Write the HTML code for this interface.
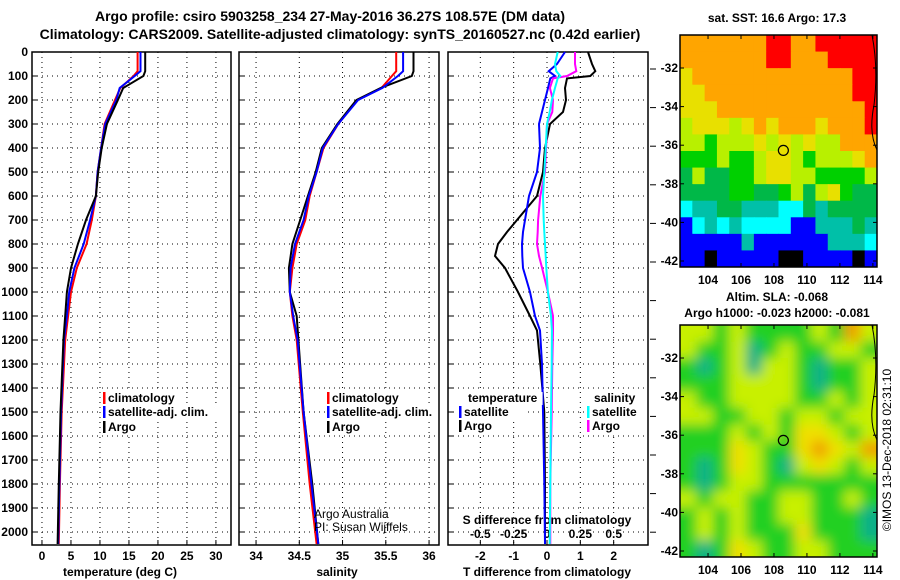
<!DOCTYPE html>
<html><head><meta charset="utf-8"><style>
body{margin:0;background:#fff}
svg{display:block;font-family:"Liberation Sans",Arial,sans-serif;font-weight:bold}
text{font-size:12px;fill:#000}
</style></head><body>
<svg id="c" width="900" height="580" viewBox="0 0 900 580">
<defs>
<clipPath id="clipT"><rect x="680" y="35" width="197" height="232"/></clipPath>
<clipPath id="clipS"><rect x="680" y="325" width="197" height="232"/></clipPath>
<filter id="bl" x="-10%" y="-10%" width="120%" height="120%"><feGaussianBlur stdDeviation="6"/></filter>
</defs>
<text x="330" y="21" text-anchor="middle" style="font-size:14px">Argo profile: csiro 5903258_234 27-May-2016 36.27S 108.57E (DM data)</text>
<text x="340" y="39" text-anchor="middle" style="font-size:14px">Climatology: CARS2009. Satellite-adjusted climatology: synTS_20160527.nc (0.42d earlier)</text>
<text x="777" y="22" text-anchor="middle">sat. SST: 16.6 Argo: 17.3</text>
<text x="777" y="301" text-anchor="middle">Altim. SLA: -0.068</text>
<text x="777" y="317" text-anchor="middle">Argo h1000: -0.023 h2000: -0.081</text>
<text transform="translate(891,450) rotate(-90)" text-anchor="middle" style="font-weight:normal">©IMOS 13-Dec-2018 02:31:10</text>
<g id="g"></g>
</svg>
<script>
// ---------- data ----------
const depthTicks=[0,100,200,300,400,500,600,700,800,900,1000,1100,1200,1300,1400,1500,1600,1700,1800,1900,2000];
const tempTicks=[0,5,10,15,20,25,30];
const salTicks=[34,34.5,35,35.5,36];
const tdiffTicks=[-2,-1,0,1,2];
const sdiffTicks=[-0.5,-0.25,0,0.25,0.5];
const sdiffLabels=["-0.5","-0.25","0","0.25","0.5"];
const latTicks=[-32,-34,-36,-38,-40,-42];
const lonTicks=[104,106,108,110,112,114];
const profDepths=[0,80,100,150,200,300,400,500,600,700,800,900,1000,1100,1200,1500,1800,2050];
const tempClim=[16.5,16.5,15.8,13.5,12.6,10.8,10.2,9.6,9.3,8.6,7.7,6.0,5.0,4.5,4.0,3.4,3.1,2.9];
const tempSat=[17.0,17.0,16.0,13.4,12.8,10.9,10.2,9.6,9.3,8.3,7.2,5.6,4.7,4.3,3.8,3.3,3.0,2.8];
const tempArgo=[17.8,17.8,17.5,14.0,13.1,11.2,10.3,9.7,9.3,7.6,6.2,5.0,4.3,4.0,3.7,3.2,2.9,2.7];
const salClim=[35.62,35.62,35.57,35.45,35.17,34.95,34.78,34.70,34.62,34.57,34.47,34.42,34.39,34.42,34.47,34.54,34.62,34.70];
const salSat=[35.70,35.70,35.64,35.46,35.18,34.95,34.77,34.70,34.61,34.55,34.45,34.40,34.39,34.43,34.48,34.55,34.64,34.72];
const salArgo=[35.82,35.82,35.80,35.44,35.16,34.94,34.76,34.69,34.60,34.51,34.42,34.38,34.39,34.47,34.49,34.55,34.65,34.72];
const diffDepths=[0,50,80,100,110,150,200,250,300,400,500,600,700,750,800,850,900,1000,1100,1160,1300,1500,1800,2050];
const tdiffArgo=[1.23,1.35,1.45,1.3,0.6,0.54,0.57,0.48,0.09,-0.06,-0.12,-0.3,-0.9,-1.2,-1.47,-1.56,-1.26,-0.87,-0.51,-0.3,-0.2,-0.08,-0.06,-0.06];
const tdiffSat=[0.54,0.3,0.05,0.24,0.1,0.03,-0.06,-0.15,-0.24,-0.21,-0.3,-0.54,-0.66,-0.72,-0.75,-0.74,-0.72,-0.51,-0.36,-0.21,-0.15,-0.12,-0.08,-0.06];
const sdiffArgo=[0.21,0.21,0.22,0.15,0.045,0.022,0.045,0.04,0,-0.007,-0.015,-0.05,-0.067,-0.07,-0.075,-0.06,-0.037,0.007,0.045,0.045,0.04,0.035,0.025,0.025];
const sdiffSat=[0.08,0.06,0.07,0.1,0.08,0.06,0.037,0.02,0,-0.01,-0.02,-0.03,-0.025,-0.02,-0.015,-0.01,-0.005,0.007,0.03,0.037,0.035,0.03,0.025,0.02];
const sstGrid=["OOOOOOORROORRRRR","OOOOOOORROOORRRR","YOOOOOOOOOOOOORR","YYOOOOOOOOOOOORR","YYYOOOOOOOOOOOOR","LYYYLYOYOOOYOOOR","LLGLLLYLYLYLLOOO","GGGLGGLYYLGLLLYO","DLDDGGLYYLLGGGGL","DDDDGGDDGLDLYGDD","CTTDDTTTCCDTDDDD","BCTCTCCCCBBTTTDT","BBBBBTBBBBBBTTTC","BBKBBBBBKKBBBBKB"];
const slaGrid=["LLGLGGGGLGOL","LGGLTGLGGLLG","GTGLTLLGTGGL","GGGLLLLGTGGL","LGGLLLLGGLGL","LLGGLLGLLGLL","GGGLGLGYYLGL","GGGYLGGYOYLO","GTGYLGTLYLGL","GTGLLGGGGGGG","LGLLGGLLGGLG","GLGLGGLLGGGT","GLGLGGGYGGGT","GTGYLGGLLGGG"];
const floatLon=108.57, floatLat=-36.27;
// ---------- helpers ----------
const NS="http://www.w3.org/2000/svg";
const G=document.getElementById('g');
function mk(tag,at,par){const e=document.createElementNS(NS,tag);for(const k in at)e.setAttribute(k,at[k]);(par||G).appendChild(e);return e;}
const yD=d=>52+0.24*d;
const P=[{x0:32,x1:231,v0:-1.72,v1:32.6},{x0:239,x1:439,v0:33.803,v1:36.115},{x0:448,x1:648,v0:-2.97,v1:3.03}];
const xT=v=>P[0].x0+(v-P[0].v0)/(P[0].v1-P[0].v0)*(P[0].x1-P[0].x0);
const xS=v=>P[1].x0+(v-P[1].v0)/(P[1].v1-P[1].v0)*(P[1].x1-P[1].x0);
const xTD=v=>P[2].x0+(v-P[2].v0)/(P[2].v1-P[2].v0)*(P[2].x1-P[2].x0);
const xSD=v=>xTD(v*4);
function stepPath(ds,vs,fx){let d='';for(let i=0;i<ds.length;i++){d+=(i?'L':'M')+fx(vs[i]).toFixed(1)+','+yD(ds[i]).toFixed(1);}return d;}
function line(ds,vs,fx,col,name){const p=mk('path',{d:stepPath(ds,vs,fx),fill:'none',stroke:col,'stroke-width':2});

}
// ---------- panels ----------
const bottom=545;
P.forEach((p,i)=>{
 const gp=mk('g',{});
 
 
 mk('rect',{x:p.x0,y:52,width:p.x1-p.x0,height:bottom-52,fill:'#fff',stroke:'#000','stroke-width':1.5},gp);
 depthTicks.forEach(d=>{mk('line',{x1:p.x0,x2:p.x1,y1:yD(d),y2:yD(d),stroke:'#000','stroke-dasharray':'1,4'},gp);
  mk('line',{x1:p.x0,x2:p.x0+5,y1:yD(d),y2:yD(d),stroke:'#000'},gp);});
});
depthTicks.forEach(d=>{const t=mk('text',{x:28,y:yD(d)+4,'text-anchor':'end'});t.textContent=d;
 
 });
function xticks(ticks,labels,fx,y,name){ticks.forEach((v,i)=>{const x=fx(v);
 mk('line',{x1:x,x2:x,y1:52,y2:bottom,stroke:'#000','stroke-dasharray':'1,4'});
 mk('line',{x1:x,x2:x,y1:bottom,y2:bottom-5,stroke:'#000'});
 const t=mk('text',{x:x,y:y,'text-anchor':'middle'});t.textContent=labels[i];
 
 });}
xticks(tempTicks,tempTicks,xT,560,'temperature-tick-label');
xticks(salTicks,salTicks,xS,560,'salinity-tick-label');
xticks(tdiffTicks,tdiffTicks,xTD,560,'tdiff-tick-label');
sdiffTicks.forEach((v,i)=>{const t=mk('text',{x:xSD(v),y:538,'text-anchor':'middle'});t.textContent=sdiffLabels[i];
 
 });
[[120,'temperature (deg C)','x-axis-title-temperature'],[337,'salinity','x-axis-title-salinity'],[547,'T difference from climatology','x-axis-title-tdiff']].forEach(a=>{
 const t=mk('text',{x:a[0],y:576,'text-anchor':'middle'});t.textContent=a[1];
 
 });
{const t=mk('text',{x:547,y:524,'text-anchor':'middle'});t.textContent='S difference from climatology';
 
 }
for(let y=69;y<545;y+=38.6){mk('line',{x1:650,x2:656,y1:y,y2:y,stroke:'#000'});}
// series
line(profDepths,tempClim,xT,'#f00','temp-climatology-line');
line(profDepths,tempSat,xT,'#00f','temp-satellite-line');
line(profDepths,tempArgo,xT,'#000','temp-argo-line');
line(profDepths,salClim,xS,'#f00','sal-climatology-line');
line(profDepths,salArgo,xS,'#000','sal-argo-line');
line(profDepths,salSat,xS,'#00f','sal-satellite-line');
line(diffDepths,tdiffArgo,xTD,'#000','tdiff-argo-line');
line(diffDepths,tdiffSat,xTD,'#00f','tdiff-satellite-line');
line(diffDepths,sdiffArgo,xSD,'#f0f','sdiff-argo-line');
line(diffDepths,sdiffSat,xSD,'#0ff','sdiff-satellite-line');
// legends
function leg(x,y,col,txt,name,maxX){const g=mk('g',{});
 
 
 const w=Math.min(txt.length*6.6+8,maxX-(x-2));
 mk('rect',{x:x-2,y:y-10,width:w,height:13,fill:'#fff'},g);
 if(col)mk('rect',{x:x-1,y:y-10,width:2.5,height:12,fill:col},g);
 const t=mk('text',{x:x+4,y:y},g);t.textContent=txt;}
leg(104,402,'#f00','climatology','legend-temp-climatology',230);
leg(104,416,'#00f','satellite-adj. clim.','legend-temp-satellite',230);
leg(104,431,'#000','Argo','legend-temp-argo',230);
leg(328,402,'#f00','climatology','legend-sal-climatology',438);
leg(328,416,'#00f','satellite-adj. clim.','legend-sal-satellite',438);
leg(328,431,'#000','Argo','legend-sal-argo',438);
leg(464,402,null,'temperature','legend-temp-header',647);
leg(460,416,'#00f','satellite','legend-tdiff-satellite',647);
leg(460,430,'#000','Argo','legend-tdiff-argo',647);
leg(590,402,null,'salinity','legend-sal-header',647);
leg(588,416,'#0ff','satellite','legend-sdiff-satellite',647);
leg(588,430,'#f0f','Argo','legend-sdiff-argo',647);
{const t=mk('text',{x:314,y:518,style:'font-weight:normal'});t.textContent='Argo Australia';
 
 const t2=mk('text',{x:314,y:531,style:'font-weight:normal'});t2.textContent='PI: Susan Wijffels';
 }
// ---------- maps ----------
const lon0=102.3,lon1=114.25;
function mapAxes(top,name,grid,cols,blur){
 const X=v=>680+(v-lon0)/(lon1-lon0)*197;
 const Y=v=>top+33+(-32-v)*19.3;
 const g=mk('g',{'clip-path':'url(#'+(blur?'clipS':'clipT')+')'});
 
 
 const inner=blur?mk('g',{filter:'url(#bl)'},g):g;
 const nr=grid.length,nc=grid[0].length,cw=197/nc,ch=232/nr;
 if(blur)mk('rect',{x:660,y:top-20,width:240,height:280,fill:cols.G},inner);
 grid.forEach((row,r)=>{[...row].forEach((c,k)=>{
  const cell=mk('rect',{x:680+k*cw-(blur&&k==0?20:0),y:top+r*ch-(blur&&r==0?20:0),width:cw+0.6+(blur&&(k==0||k==nc-1)?20:0),height:ch+0.6+(blur&&(r==0||r==nr-1)?20:0),fill:cols[c]},inner);
  
  
 });});
 mk('path',{d:`M872,${top}C876,${top+20} 877,${top+45} 874,${top+70} C870,${top+90} 872,${top+105} 877,${top+115}`,fill:'none',stroke:'#000'},g);
 mk('rect',{x:680,y:top,width:197,height:232,fill:'none',stroke:'#000','stroke-width':1.5});
 mk('circle',{cx:X(floatLon),cy:Y(floatLat),r:5,fill:'none',stroke:'#000','stroke-width':1.2});
 latTicks.forEach(v=>{const y=Y(v);mk('line',{x1:680,x2:684,y1:y,y2:y,stroke:'#000'});mk('line',{x1:873,x2:877,y1:y,y2:y,stroke:'#000'});
  const t=mk('text',{x:678,y:y+4,'text-anchor':'end'});t.textContent=v;
  });
 lonTicks.forEach(v=>{const x=X(v);mk('line',{x1:x,x2:x,y1:top,y2:top+4,stroke:'#000'});mk('line',{x1:x,x2:x,y1:top+228,y2:top+232,stroke:'#000'});
  const t=mk('text',{x:x,y:top+249,'text-anchor':'middle'});t.textContent=v;
  });
}
mapAxes(35,'sst-map',sstGrid,{R:'#ff0000',O:'#ffa500',Y:'#e8e000',L:'#b8f000',G:'#00d000',D:'#00b848',T:'#00c0a8',C:'#00ffff',B:'#0000ff',K:'#000000'},false);
mapAxes(325,'sla-map',slaGrid,{G:'#20d020',L:'#c8f000',Y:'#f0e000',O:'#f0a000',T:'#10b088'},true);
</script>
</body></html>
